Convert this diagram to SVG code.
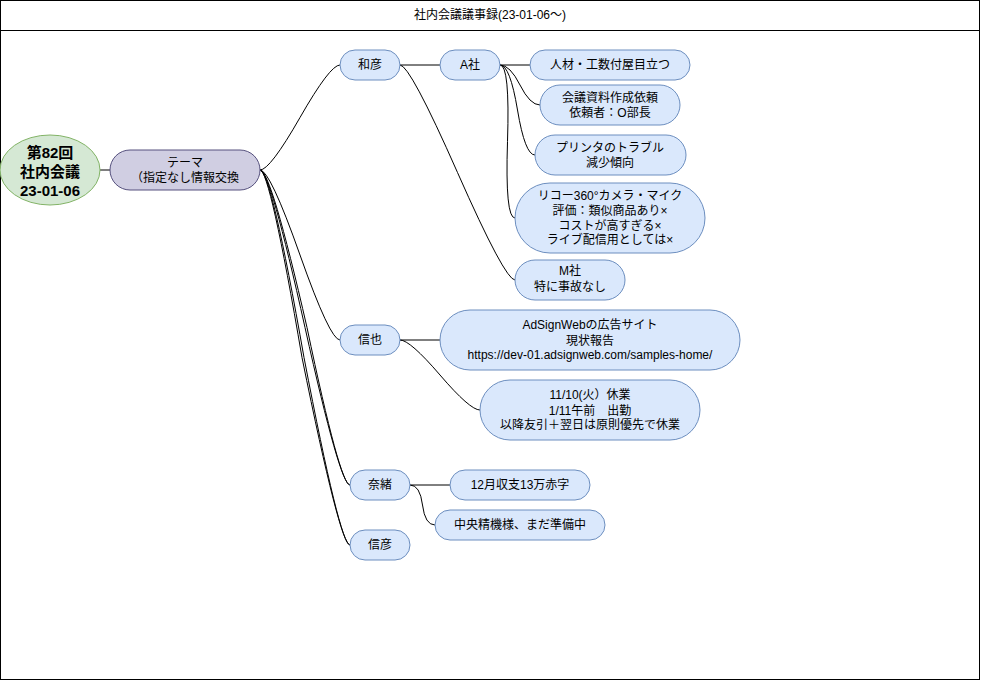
<svg xmlns="http://www.w3.org/2000/svg" width="981" height="681" viewBox="0 0 981 681">
<style>
text{font-family:"Liberation Sans","Noto Sans CJK JP",sans-serif;font-size:12px;fill:#000;text-anchor:middle}
.b{fill:#dae8fc;stroke:#6c8ebf;stroke-width:1}
.t{fill:#d0cee2;stroke:#56517e;stroke-width:1}
.r{fill:#d5e8d4;stroke:#82b366;stroke-width:1}
.e{fill:none;stroke:#000;stroke-width:1}
.root{font-size:15px;font-weight:bold}
</style>
<rect x="0.5" y="0.5" width="979" height="679" fill="#fff" stroke="#000" stroke-width="1"/>
<line x1="0.5" y1="30.5" x2="979.5" y2="30.5" stroke="#000" stroke-width="1"/>
<text x="490" y="19">社内会議議事録(23-01-06～)</text>
<g id="connectors">
<line class="e" x1="100" y1="170" x2="110" y2="170"/>
<path class="e" d="M260,170 Q270,170 300,117.5 Q330,65 340,65"/>
<path class="e" d="M260,170 Q270,170 300,255 Q330,340 340,340"/>
<path class="e" d="M260,170 Q270,170 305,327.5 Q340,485 350,485"/>
<path class="e" d="M260,170 Q271,170 307,327.5 Q340,485 350,485"/>
<path class="e" d="M260,170 Q270,170 302,357.5 Q340,545 350,545"/>
<path class="e" d="M260,170 Q271,170 304,357.5 Q340,545 350,545"/>
<line class="e" x1="400" y1="65" x2="440" y2="65"/>
<path class="e" d="M400,65 Q410,65 457.5,172.5 Q505,280 515,280"/>
<line class="e" x1="500" y1="65" x2="530" y2="65"/>
<path class="e" d="M500,65 Q510,65 520,85 Q530,105 540,105"/>
<path class="e" d="M500,65 Q510,65 517.5,110 Q525,155 535,155"/>
<path class="e" d="M500,65 Q510,65 507.5,141.5 Q505,218 515,218"/>
<line class="e" x1="400" y1="340" x2="440" y2="340"/>
<path class="e" d="M400,340 Q410,340 440,375 Q470,410 480,410"/>
<line class="e" x1="410" y1="485" x2="450" y2="485"/>
<path class="e" d="M410,485 Q420,485 422.5,505 Q425,525 435,525"/>
</g>
<g id="root"><ellipse class="r" cx="50" cy="170" rx="50" ry="35"/>
<text class="root" x="50" y="158">第82回<tspan x="50" dy="19">社内会議</tspan><tspan x="50" dy="18.5">23-01-06</tspan></text></g>
<g id="theme"><rect class="t" x="110" y="150" width="150" height="40" rx="20"/>
<text x="185" y="167">テーマ<tspan x="185" dy="15">（指定なし情報交換</tspan></text></g>
<g id="kazuhiko"><rect class="b" x="340" y="50" width="60" height="30" rx="15"/><text x="370" y="69">和彦</text></g>
<g id="a-sha"><rect class="b" x="440" y="50" width="60" height="30" rx="15"/><text x="470" y="69">A社</text></g>
<g id="jinzai"><rect class="b" x="530" y="50" width="160" height="30" rx="15"/><text x="610" y="69">人材・工数付屋目立つ</text></g>
<g id="kaigi"><rect class="b" x="540" y="85" width="140" height="40" rx="20"/><text x="610" y="102">会議資料作成依頼<tspan x="610" dy="15">依頼者：O部長</tspan></text></g>
<g id="printer"><rect class="b" x="535" y="135" width="151" height="40" rx="20"/><text x="610" y="152">プリンタのトラブル<tspan x="610" dy="14.5">減少傾向</tspan></text></g>
<g id="ricoh"><rect class="b" x="515" y="183" width="190" height="70" rx="35"/><text x="610" y="200">リコー360°カメラ・マイク<tspan x="610" dy="15">評価：類似商品あり×</tspan><tspan x="610" dy="14.5">コストが高すぎる×</tspan><tspan x="610" dy="14.5">ライブ配信用としては×</tspan></text></g>
<g id="m-sha"><rect class="b" x="515" y="260" width="110" height="40" rx="20"/><text x="570" y="275">M社<tspan x="570" dy="15.5">特に事故なし</tspan></text></g>
<g id="shinya"><rect class="b" x="340" y="325" width="60" height="30" rx="15"/><text x="370" y="344">信也</text></g>
<g id="adsign"><rect class="b" x="440" y="310" width="300" height="60" rx="30"/><text x="590" y="329">AdSignWebの広告サイト<tspan x="590" dy="15.5">現状報告</tspan><tspan x="590" dy="14.5">https://dev-01.adsignweb.com/samples-home/</tspan></text></g>
<g id="kyugyo"><rect class="b" x="480" y="380" width="220" height="60" rx="30"/><text x="590" y="399">11/10(火）休業<tspan x="590" dy="15.5">1/11午前　出勤</tspan><tspan x="590" dy="14.5">以降友引＋翌日は原則優先で休業</tspan></text></g>
<g id="nao"><rect class="b" x="350" y="470" width="60" height="30" rx="15"/><text x="380" y="489">奈緒</text></g>
<g id="shushi"><rect class="b" x="450" y="470" width="140" height="30" rx="15"/><text x="520" y="489">12月収支13万赤字</text></g>
<g id="chuo"><rect class="b" x="435" y="510" width="170" height="30" rx="15"/><text x="520" y="529">中央精機様、まだ準備中</text></g>
<g id="nobuhiko"><rect class="b" x="350" y="530" width="60" height="30" rx="15"/><text x="380" y="549">信彦</text></g>
</svg>
